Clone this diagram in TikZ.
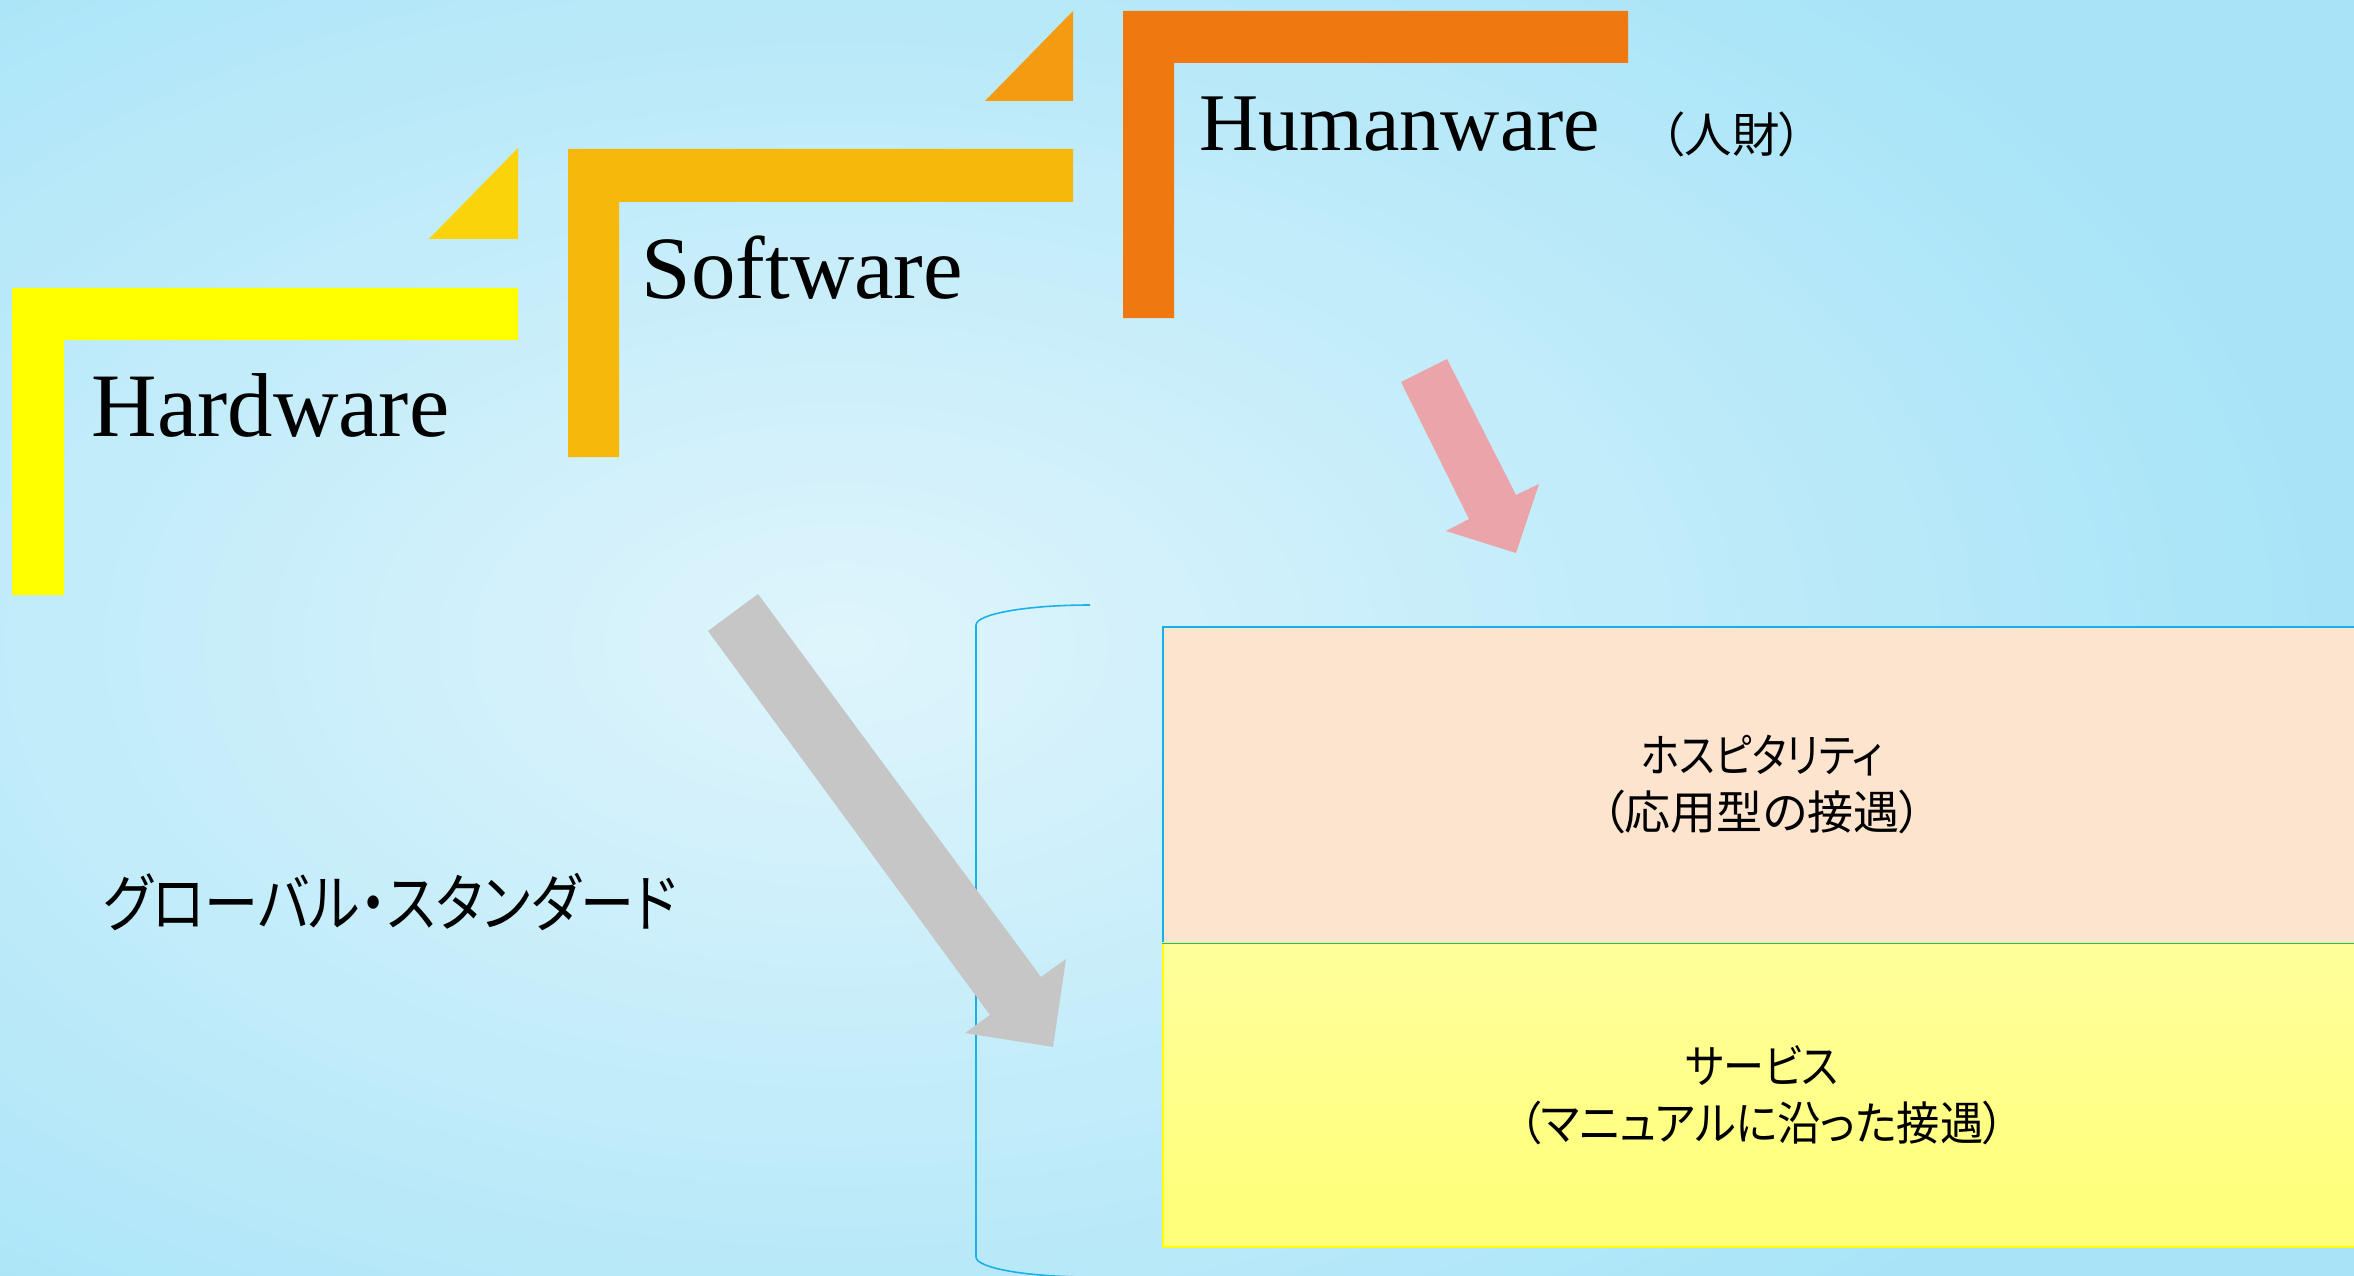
\documentclass[tikz,border=0pt]{standalone}
\usepackage{fontspec}
\usepackage{graphicx}
\setmainfont{Liberation Serif}
\newfontfamily\jpfont[RawFeature=+palt]{Noto Sans CJK JP}
\definecolor{bginner}{RGB}{223,245,252}
\definecolor{bgouter}{RGB}{168,228,248}
\definecolor{hwyellow}{RGB}{255,255,0}
\definecolor{hwtri}{RGB}{251,211,10}
\definecolor{swgold}{RGB}{246,184,10}
\definecolor{swtri}{RGB}{244,155,18}
\definecolor{huorange}{RGB}{240,120,16}
\definecolor{arrowgray}{RGB}{198,198,198}
\definecolor{arrowpink}{RGB}{235,164,170}
\definecolor{peach}{RGB}{253,228,207}
\definecolor{boxcyan}{RGB}{20,176,236}
\definecolor{paleyellowtop}{RGB}{255,255,155}
\definecolor{paleyellowbot}{RGB}{255,255,120}
\definecolor{bracketblue}{RGB}{27,177,231}
\newcommand{\narrowkana}[2]{\scalebox{#1}[1]{#2}}
\tikzset{
  eng/.style={inner sep=0pt, anchor=base west, font=\fontsize{25.3}{30}\selectfont},
  jptext/.style={inner sep=0pt, align=center, font=\jpfont\fontsize{13.1}{16.2}\selectfont},
  layerbox/.style={inner sep=0pt, anchor=north west, minimum width=11.98cm, line width=1.5*0.2845pt},
  bracketline/.style={draw=bracketblue, line width=0.45pt},
}
\begin{document}
\begin{tikzpicture}[x=0.01cm, y=-0.01cm]
\useasboundingbox (0,0) rectangle (2354,1276);
\begin{scope}
\clip (0,0) rectangle (2354,1276);
\fill[bgouter] (0,0) rectangle (2354,1276);
\foreach \i in {0,...,45}{
  \pgfmathsetmacro{\p}{100*\i/45}
  \pgfmathsetmacro{\rx}{1500*(1-\i/45)+2}
  \pgfmathsetmacro{\ry}{900*(1-\i/45)+2}
  \fill[bginner!\p!bgouter] (840,645) ellipse[x radius=\rx, y radius=\ry];
}
% L shapes and triangles
\fill[hwyellow] (12,288) -- (518,288) -- (518,340) -- (64,340) -- (64,595) -- (12,595) -- cycle;
\fill[hwtri] (518,148) -- (518,239) -- (429,239) -- cycle;
\fill[swgold] (568,149) -- (1073,149) -- (1073,202) -- (619,202) -- (619,457) -- (568,457) -- cycle;
\fill[swtri] (1073,11) -- (1073,101) -- (985,101) -- cycle;
\fill[huorange] (1123,11) -- (1628,11) -- (1628,63) -- (1174,63) -- (1174,318) -- (1123,318) -- cycle;
% block arrows
\fill[arrowpink] (1447,359) -- (1516,495) -- (1539,484) -- (1516,553) -- (1446,531) -- (1469,519) -- (1401,382) -- cycle;
% bracket
\draw[bracketline] (1090,605) arc[start angle=270, end angle=180, x radius=114, y radius=20] -- (976,1257) arc[start angle=180, end angle=90, x radius=114, y radius=20];
% layer boxes
\node[layerbox, draw=boxcyan, fill=peach, minimum height=3.16cm, jptext] (hosp) at (1162,626) {\narrowkana{0.86}{ホスピタリティ}\\（応用型の接遇）};
\node[layerbox, draw=hwyellow, top color=paleyellowtop, bottom color=paleyellowbot, minimum height=3.04cm, jptext] (serv) at (1162,942) {\narrowkana{0.89}{サービス}\\\narrowkana{0.94}{（マニュアルに沿った接遇）}};
\draw[boxcyan, line width=1.5*0.2845pt] (hosp.south west) -- (hosp.south east);
\fill[arrowgray] (758,594) -- (1041,977) -- (1066,959) -- (1053,1047) -- (965,1033) -- (990,1015) -- (708,631) -- cycle;
\end{scope}
% texts
\node[eng, font=\fontsize{25.8}{30}\selectfont] (hw) at (91,436) {Hardware};
\node[eng] (sw) at (641,298) {Software};
\node[eng, font=\fontsize{23.3}{28}\selectfont] (hu) at (1199,151) {Humanware};
\node[jptext, font=\jpfont\fontsize{13.5}{16.2}\selectfont] (jinzai) at (1732,134) {（人財）};
\node[jptext, font=\jpfont\fontsize{17.9}{22}\selectfont] (global) at (390,902) {\narrowkana{0.86}{グローバル・スタンダード}};
\end{tikzpicture}
\end{document}
